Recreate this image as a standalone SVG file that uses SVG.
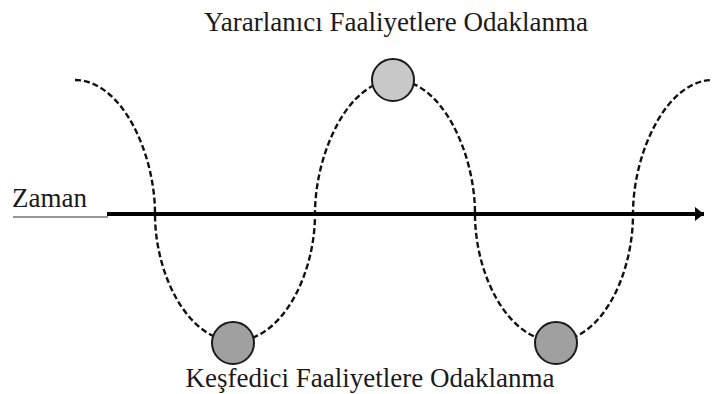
<svg xmlns="http://www.w3.org/2000/svg" width="712" height="394" viewBox="0 0 712 394">
<style>
.lbl{font-family:"Liberation Serif","Times New Roman",serif;font-size:27px;fill:#1a1a1a}
.wave{fill:none;stroke:#111;stroke-width:2.4;stroke-dasharray:6 3}
.node{stroke:#1a1a1a;stroke-width:2}
</style>
<defs>
<marker id="ah" markerWidth="10" markerHeight="16" refX="9" refY="8" orient="auto" markerUnits="userSpaceOnUse">
<path d="M0,1 L9,8 L0,15 Z" fill="#000"/>
</marker>
</defs>
<rect width="712" height="394" fill="#fff"/>
<g id="connectors">
<path class="wave" d="M75,80 C121,80 155,152 155,214 C155,276 189,341 235,341 C281,341 315,276 315,214 C315,152 349,80 395,80 C441,80 475,152 475,214 C475,276 509,341 555,341 C601,341 633,276 633,214 C633,152 667,80 713,80"/>
<line x1="13" y1="217" x2="108" y2="217" stroke="#333" stroke-width="1.2"/>
<line x1="107" y1="214" x2="704" y2="214" stroke="#000" stroke-width="4" marker-end="url(#ah)"/>
</g>
<g id="zaman"><text class="lbl" x="12" y="207">Zaman</text></g>
<g id="top-label"><text class="lbl" x="396" y="31" text-anchor="middle">Yararlanıcı Faaliyetlere Odaklanma</text></g>
<g id="bottom-label"><text class="lbl" x="370" y="387" text-anchor="middle">Keşfedici Faaliyetlere Odaklanma</text></g>
<g id="peak"><circle class="node" cx="393" cy="80" r="21" fill="#c8c8c8"/></g>
<g id="trough1"><circle class="node" cx="233" cy="343" r="21" fill="#a0a0a0"/></g>
<g id="trough2"><circle class="node" cx="556" cy="343" r="21" fill="#a0a0a0"/></g>
</svg>
